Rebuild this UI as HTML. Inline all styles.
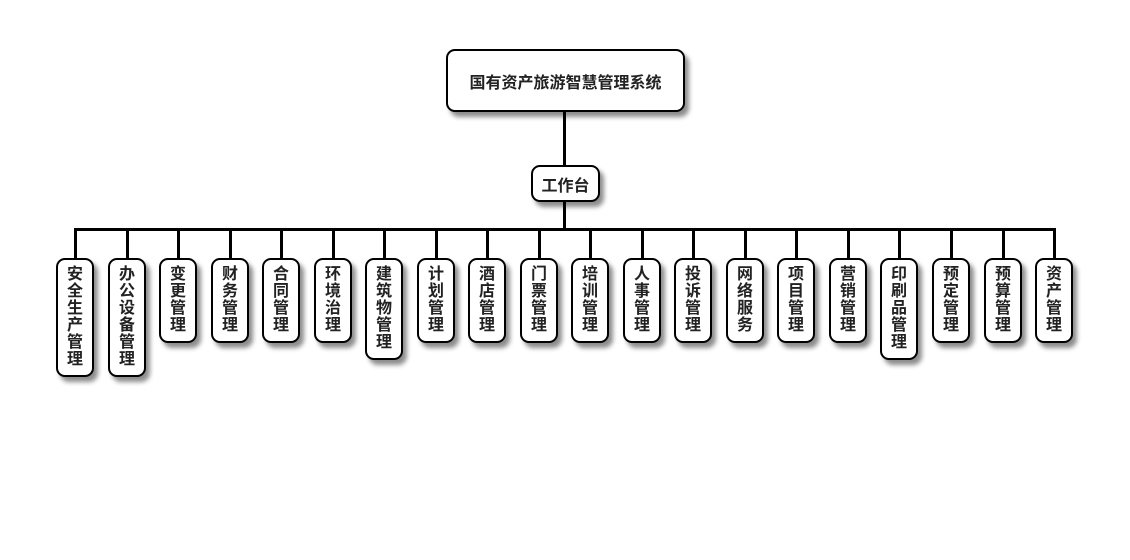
<!DOCTYPE html>
<html><head><meta charset="utf-8"><style>
body{margin:0;width:1130px;height:560px;background:#fff;position:relative;overflow:hidden;font-family:"Liberation Sans","Noto Sans CJK SC",sans-serif;font-weight:bold;color:#222}
.b{position:absolute;box-sizing:border-box;border:2px solid #000;border-radius:9px;background:#fff;box-shadow:4px 5px 5px rgba(0,0,0,.45);display:flex;align-items:center;justify-content:center;text-align:center}
.v{width:38px;top:258px;font-size:16px;line-height:17px;display:block;padding-top:6px}
.l{position:absolute;background:#000}
</style></head><body>
<div class="l" style="left:563px;top:110px;width:3px;height:56px"></div>
<div class="l" style="left:563px;top:200px;width:3px;height:31px"></div>
<div class="l" style="left:74px;top:228px;width:982px;height:3px"></div>
<div class="b" style="left:446px;top:49px;width:239px;height:63px;font-size:16px">国有资产旅游智慧管理系统</div>
<div class="b" style="left:531px;top:165px;width:69px;height:37px;font-size:16px">工作台</div>
<div id="c"></div>
<script>
var n=["安全生产管理","办公设备管理","变更管理","财务管理","合同管理","环境治理","建筑物管理","计划管理","酒店管理","门票管理","培训管理","人事管理","投诉管理","网络服务","项目管理","营销管理","印刷品管理","预定管理","预算管理","资产管理"];
var h="";
n.forEach(function(t,i){var cx=Math.round(75+i*51.53);var hh=t.length*17+17;
h+='<div class="l" style="left:'+(cx-1)+'px;top:229px;width:3px;height:30px"></div>';
h+='<div class="b v" style="left:'+(cx-19)+'px;height:'+hh+'px">'+t.split("").join("<br>")+'</div>';});
document.getElementById("c").innerHTML=h;
</script>
</body></html>
